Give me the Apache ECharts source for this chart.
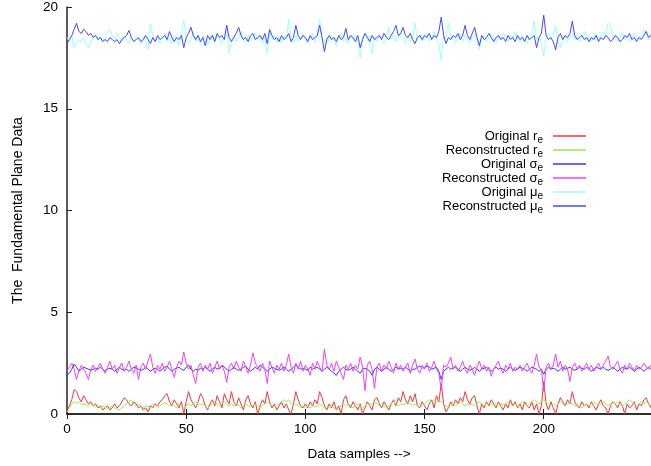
<!DOCTYPE html>
<html><head><meta charset="utf-8">
<script src="https://cdn.jsdelivr.net/npm/echarts@6/dist/echarts.min.js"></script>
<style>html,body{margin:0;padding:0;background:#fff}#c{width:651px;height:466px}</style>
</head><body><div id="c"></div>
<script>
// x: sample index 0..245
const xTicks = [0, 50, 100, 150, 200];
const yTicks = [0, 5, 10, 15, 20];

const seriesNames = ['Original r', 'Reconstructed r', 'Original σ', 'Reconstructed σ', 'Original μ', 'Reconstructed μ'];
const seriesSub = 'e';

const origRe = [
0.1,0.4,0.7,1.2,1.1,0.8,0.6,0.9,0.7,0.5,
0.6,0.4,0.5,0.3,0.4,0.2,0.3,0.4,0.2,0.3,
0.5,0.3,0.4,0.6,0.8,0.7,0.5,0.4,0.6,0.5,
0.3,0.4,0.2,0.3,0.1,0.4,0.3,0.5,0.4,0.6,
0.7,0.9,1.0,0.6,0.4,0.7,0.5,0.3,0.6,0.0,
0.6,1.1,0.7,0.5,0.3,0.6,1.0,0.8,0.4,0.2,
0.5,0.7,0.4,0.9,0.6,0.3,1.0,0.7,0.5,1.1,
0.6,0.4,0.8,0.5,0.2,0.7,0.9,0.5,0.3,0.6,
0.0,0.4,0.7,0.5,1.1,0.6,0.3,0.5,0.2,0.4,
0.6,0.3,0.5,0.2,0.0,0.5,1.1,0.7,0.4,0.3,
0.5,0.3,0.6,0.4,0.7,0.5,1.1,0.8,0.4,0.2,
0.5,0.3,0.6,0.2,0.4,0.0,0.7,0.9,0.5,0.3,
0.6,0.4,0.2,0.5,0.0,0.3,0.6,0.4,0.2,0.7,
0.8,0.5,0.3,0.6,0.4,0.2,0.5,0.7,0.4,0.8,
0.6,1.1,0.7,0.5,0.9,0.6,1.0,0.4,0.3,0.6,
0.4,0.2,0.5,0.7,0.3,0.9,0.6,1.5,0.5,0.1,
0.3,0.6,0.4,0.7,0.5,0.8,0.6,1.1,0.7,0.5,
0.8,0.9,0.4,0.0,0.5,0.3,0.6,0.4,0.7,0.5,
0.3,0.6,0.4,0.2,0.5,0.3,0.7,0.4,0.6,0.3,
0.5,0.2,0.6,0.4,0.3,0.6,0.2,0.5,0.0,0.4,
1.6,0.5,0.2,0.6,0.3,0.0,0.5,0.8,0.6,0.4,
0.7,0.5,1.1,0.6,0.4,0.3,0.6,0.4,0.5,0.3,
0.6,0.4,0.2,0.5,0.7,0.4,0.3,0.0,0.4,0.6,
0.5,0.3,0.6,0.4,0.0,0.5,0.3,0.4,0.6,0.2,
0.5,0.4,0.7,0.8,0.5,0.3
];
const reconRe = [
0.1,0.3,0.5,0.6,0.5,0.6,0.5,0.45,0.5,0.4,
0.5,0.4,0.35,0.4,0.3,0.4,0.35,0.25,0.3,0.4,
0.3,0.25,0.2,0.3,0.4,0.5,0.6,0.7,0.5,0.4,
0.5,0.4,0.3,0.4,0.35,0.4,0.5,0.4,0.3,0.4,
0.5,0.55,0.5,0.4,0.5,0.4,0.3,0.5,0.4,0.3,
0.4,0.5,0.4,0.5,0.6,0.5,0.45,0.5,0.4,0.3,
0.4,0.5,0.55,0.5,0.4,0.5,0.6,0.5,0.4,0.5,
0.4,0.5,0.45,0.3,0.4,0.5,0.4,0.35,0.4,0.5,
0.4,0.3,0.4,0.5,0.6,0.5,0.4,0.35,0.4,0.5,
0.6,0.7,0.6,0.7,0.5,0.4,0.5,0.4,0.3,0.4,
0.3,0.4,0.3,0.4,0.35,0.4,0.5,0.4,0.3,0.4,
0.3,0.4,0.3,0.2,0.3,0.4,0.5,0.4,0.5,0.4,
0.3,0.4,0.5,0.4,0.3,0.4,0.5,0.45,0.5,0.6,
0.5,0.4,0.5,0.4,0.3,0.4,0.5,0.6,0.5,0.4,
0.5,0.45,0.5,0.6,0.5,0.4,0.5,0.4,0.5,0.4,
0.5,0.6,0.7,0.6,0.7,0.6,0.7,0.6,0.5,0.4,
0.3,0.4,0.5,0.4,0.5,0.6,0.5,0.4,0.5,0.45,
0.5,0.4,0.5,0.6,0.5,0.4,0.5,0.6,0.5,0.4,
0.5,0.4,0.5,0.45,0.5,0.6,0.5,0.4,0.5,0.4,
0.5,0.6,0.5,0.4,0.5,0.6,0.7,0.6,0.5,0.6,
0.7,0.6,0.5,0.4,0.5,0.4,0.5,0.6,0.5,0.4,
0.5,0.6,0.5,0.4,0.5,0.4,0.3,0.4,0.5,0.4,
0.5,0.6,0.5,0.4,0.5,0.6,0.5,0.4,0.5,0.6,
0.5,0.6,0.5,0.4,0.5,0.6,0.7,0.6,0.5,0.4,
0.5,0.6,0.5,0.6,0.5,0.4
];
const origSigma = [
1.9,2.0,2.2,2.45,2.3,2.1,2.2,2.3,2.25,2.2,
2.15,2.2,2.25,2.2,2.3,2.2,2.1,2.2,2.25,2.2,
2.1,2.2,2.3,2.2,2.15,2.2,2.1,2.2,2.3,2.25,
2.2,2.15,2.2,2.3,2.2,2.1,2.2,2.25,2.2,2.1,
2.2,2.3,2.35,2.2,2.1,2.2,2.25,2.3,2.2,2.15,
2.3,2.4,2.2,2.1,2.2,2.15,2.25,2.2,2.3,2.2,
2.1,2.2,2.3,2.2,2.25,2.4,2.3,2.2,2.1,2.2,
2.3,2.2,2.15,2.2,2.3,2.35,2.2,2.1,2.2,2.3,
2.2,2.4,2.3,2.2,2.1,2.2,2.3,2.25,2.2,2.15,
2.2,2.3,2.2,2.1,2.2,2.3,2.4,2.3,2.2,2.25,
2.2,2.15,2.3,2.2,2.25,2.3,2.2,2.1,2.2,2.3,
2.2,2.1,2.0,1.9,2.1,2.2,2.3,2.2,2.15,2.2,
2.3,2.2,2.1,2.0,2.2,2.25,2.2,2.1,1.9,2.2,
2.3,2.2,2.1,2.2,2.3,2.2,2.1,2.2,2.3,2.2,
2.25,2.2,2.3,2.2,2.1,2.2,2.2,2.3,2.35,2.25,
2.3,2.35,2.3,2.2,2.25,2.3,2.1,1.7,2.1,2.2,
2.3,2.2,2.25,2.3,2.2,2.1,2.2,2.3,2.2,2.15,
2.2,2.3,2.2,2.1,2.2,2.25,2.3,2.2,2.1,2.2,
2.3,2.2,2.25,2.2,2.1,2.2,2.3,2.2,2.15,2.2,
2.3,2.25,2.2,2.1,2.2,2.3,2.25,2.2,2.1,2.2,
1.95,2.2,2.3,2.2,2.25,2.2,2.1,2.2,2.3,2.2,
2.25,2.3,2.2,2.15,2.2,2.3,2.25,2.2,2.3,2.2,
2.1,2.2,2.3,2.25,2.2,2.3,2.2,2.15,2.2,2.3,
2.2,2.1,2.2,2.3,2.25,2.2,2.3,2.2,2.1,2.2,
2.3,2.2,2.1,2.2,2.3,2.2
];
const reconSigma = [
2.1,2.3,2.5,2.2,1.7,2.1,2.4,2.2,2.0,1.7,
2.2,2.4,2.1,2.3,2.5,2.2,2.0,2.3,2.6,2.2,
2.4,2.0,2.3,2.5,2.1,2.3,2.6,2.2,2.0,2.4,
1.7,2.3,2.5,2.2,2.6,2.95,2.3,2.0,2.4,2.2,
2.5,2.1,2.3,2.6,2.2,1.8,2.3,2.6,2.4,3.05,
2.5,2.2,2.4,1.9,1.5,2.3,2.5,2.1,2.4,2.2,
2.5,2.0,2.3,2.6,2.2,2.4,2.1,1.55,2.3,2.5,
2.2,2.6,2.3,2.1,2.6,2.3,2.0,2.4,3.0,2.5,
2.3,2.1,2.5,2.2,1.5,2.6,2.3,2.0,2.4,2.2,
2.5,2.1,2.4,2.95,2.3,2.0,2.5,2.2,2.6,2.1,
2.4,2.2,1.9,2.5,2.2,2.6,2.3,2.1,3.2,2.4,
2.2,2.5,2.1,2.6,2.3,2.0,1.7,2.4,2.2,2.5,
2.1,2.4,2.2,2.8,2.3,1.15,2.4,2.6,2.2,1.25,
2.3,2.5,2.1,2.4,2.2,2.6,2.3,2.0,2.5,2.2,
2.4,2.1,2.3,2.5,2.0,2.4,2.7,2.2,2.0,2.4,
2.2,2.5,2.1,2.3,2.6,2.2,2.0,1.2,2.4,2.3,
2.5,2.8,2.2,2.4,2.1,2.3,2.6,2.2,2.0,2.4,
2.2,1.9,2.3,2.6,2.2,2.4,2.1,2.3,1.85,2.2,
2.4,2.6,2.2,2.0,2.4,2.2,2.5,2.1,2.3,2.2,
2.4,2.1,2.3,2.5,2.2,2.0,2.4,2.95,2.3,2.2,
1.1,2.3,2.5,2.2,2.4,2.95,2.3,2.6,2.1,2.4,
2.2,1.6,2.3,2.5,2.2,2.4,2.1,2.3,2.5,2.2,
2.4,2.1,2.3,2.5,2.2,2.4,2.6,2.85,2.3,2.2,
2.4,2.6,2.2,2.0,2.4,2.2,2.5,2.3,2.1,2.4,
2.2,2.3,2.5,2.3,2.2,2.4
];
const origMu = [
18.5,18.3,18.6,18.0,18.2,18.4,18.3,18.5,18.2,18.0,
18.3,18.5,18.7,18.4,18.6,18.3,18.5,18.8,18.9,18.6,
18.4,18.7,18.5,18.3,18.6,18.4,18.2,18.5,18.3,18.6,
18.4,18.2,18.5,18.3,17.9,19.2,18.6,18.3,18.5,18.2,
18.4,18.7,18.3,18.5,18.2,18.6,18.4,18.1,18.6,19.36,
18.5,18.2,18.4,18.7,18.3,18.5,18.2,18.6,18.4,18.1,
18.5,18.7,18.3,18.6,18.4,18.2,18.5,19.1,17.7,18.4,
18.6,18.3,18.5,18.8,18.4,18.2,18.6,18.3,18.5,18.7,
18.4,18.6,18.2,18.5,17.7,18.8,18.4,18.6,18.3,18.5,
18.2,18.6,18.4,19.4,18.5,18.2,18.6,18.3,18.5,18.7,
18.4,18.2,18.5,18.7,18.3,18.6,19.4,18.4,18.2,18.5,
18.3,18.6,18.4,18.1,18.5,18.7,18.3,18.5,18.2,18.6,
18.4,18.6,18.3,17.5,18.5,18.7,18.4,18.6,17.7,18.5,
18.3,18.6,18.4,18.2,18.5,19.0,18.4,18.6,18.3,18.5,
18.7,18.4,18.2,18.6,18.3,18.5,19.2,18.4,18.6,18.3,
18.5,18.7,18.3,18.5,18.8,18.4,18.2,17.4,18.6,18.5,
19.2,18.6,18.4,18.2,18.5,18.7,18.3,18.6,18.4,18.2,
18.5,18.7,18.4,17.9,18.5,18.6,18.3,18.5,18.7,18.4,
18.2,18.6,18.4,18.7,18.5,18.3,18.6,18.4,18.8,18.5,
18.3,18.6,18.4,18.2,18.5,18.7,19.3,18.4,18.5,18.2,
17.6,18.5,18.7,18.4,18.6,19.1,18.3,18.0,18.4,18.6,
18.3,18.5,18.7,18.4,18.6,18.3,18.5,18.8,18.4,18.6,
18.3,18.5,18.7,18.4,18.6,18.8,18.5,19.2,19.1,18.4,
18.6,18.3,18.5,18.8,18.4,18.6,18.3,18.5,18.7,18.4,
18.6,18.5,18.9,18.6,18.4,18.7
];
const reconMu = [
18.2,18.4,18.6,18.9,19.2,18.8,18.7,18.9,18.8,18.6,
18.7,18.5,18.6,18.4,18.5,18.3,18.4,18.3,18.5,18.4,
18.3,18.4,18.2,18.4,18.5,18.6,18.85,18.5,18.3,18.4,
18.5,18.3,18.4,18.6,18.4,18.2,18.5,18.3,18.6,18.4,
18.5,18.6,18.4,18.8,18.5,18.3,18.5,18.4,18.6,18.0,
18.5,18.7,19.0,18.6,18.4,18.6,18.3,18.5,18.1,18.6,
18.4,18.6,18.3,18.7,18.5,18.6,18.4,19.1,18.5,18.3,
18.5,18.7,19.0,18.6,18.4,18.5,18.3,18.6,18.7,18.4,
18.5,18.6,18.4,18.7,18.2,18.9,18.6,18.4,18.5,18.3,
18.6,18.4,18.5,18.7,18.3,18.5,19.1,18.6,18.4,18.6,
18.5,18.3,18.6,18.4,18.5,18.6,19.1,18.5,17.8,18.4,
18.6,18.4,18.5,18.3,18.6,18.4,18.5,18.95,18.4,18.6,
18.5,18.3,18.6,18.0,18.4,18.7,18.5,18.3,18.6,18.4,
18.5,18.6,18.4,18.7,18.5,18.4,18.6,18.8,19.1,18.6,
18.7,19.0,18.6,18.5,18.7,18.4,18.2,18.5,18.6,18.4,
18.6,18.5,18.7,18.4,18.6,18.5,18.8,19.5,18.6,18.2,
18.5,18.4,18.6,18.5,18.7,18.4,18.6,19.1,18.6,18.4,
18.7,19.0,18.5,18.1,18.6,18.4,18.5,18.7,18.5,18.3,
18.5,18.6,18.4,18.5,18.3,18.6,18.4,18.5,18.3,18.6,
18.4,18.5,18.3,18.6,18.4,18.5,18.6,18.0,18.5,18.7,
19.6,18.6,18.4,18.5,18.3,17.9,18.5,18.7,18.4,18.6,
18.5,18.7,19.3,18.6,18.4,18.5,18.6,18.4,18.5,18.3,
18.5,18.4,18.6,18.3,18.5,18.4,18.6,18.5,18.3,18.4,
18.6,18.5,18.3,18.4,18.6,18.5,18.7,18.4,18.5,18.3,
18.5,18.4,18.6,18.8,18.5,18.6
];

const allValues = [origRe, reconRe, origSigma, reconSigma, origMu, reconMu];
const colors = ['#ee3a3a', '#9be85a', '#3434ff', '#f044f0', '#9cffff', '#4848ff'];

const FONT = '"Liberation Sans", Arial, Helvetica, sans-serif';
const chart = echarts.init(document.getElementById('c'), null, {renderer: 'canvas'});

const legendRich = {
  a: {fontSize: 13, fontFamily: FONT, color: '#000', lineHeight: 14, height: 14},
  s: {fontSize: 10, fontFamily: FONT, color: '#000', lineHeight: 6, height: 6, padding: [8, 0, 0, 0]}
};

const series = allValues.map((vals, k) => ({
  name: seriesNames[k] + seriesSub,
  type: 'line',
  data: vals.map((v, i) => [i, v]),
  showSymbol: false,
  symbol: 'none',
  lineStyle: {width: 1, color: colors[k]},
  itemStyle: {color: colors[k]},
  clip: true,
  animation: false,
  z: 2 + k
}));

const axisLineStyle = {color: '#222', width: 1.5};

chart.setOption({
  animation: false,
  backgroundColor: '#fff',
  grid: {left: 67, top: 7, right: -4, bottom: 51, containLabel: false},
  legend: {
    orient: 'vertical',
    right: 60,
    top: 124,
    align: 'right',
    itemWidth: 33,
    itemHeight: 1.5,
    itemGap: -2,
    icon: 'rect',
    selectedMode: false,
    data: seriesNames.map(n => n + seriesSub),
    formatter: function (name) {
      const base = name.slice(0, -1);
      return '{a|' + base + '}{s|' + seriesSub + '}';
    },
    textStyle: {rich: legendRich, fontFamily: FONT, padding: [0, 5, 0, 0]}
  },
  xAxis: [{
    type: 'value', min: 0, max: 245, interval: 50,
    name: 'Data samples -->', nameLocation: 'middle', nameGap: 33,
    nameTextStyle: {fontSize: 13.5, fontFamily: FONT, color: '#000'},
    axisLine: {show: true, lineStyle: axisLineStyle, onZero: false},
    axisTick: {show: true, inside: true, length: 5, lineStyle: {color: '#222', width: 1}},
    axisLabel: {fontSize: 13.5, fontFamily: FONT, color: '#000', margin: 8,
      customValues: xTicks},
    splitLine: {show: false}
  }, {
    type: 'value', min: 0, max: 245, interval: 50, position: 'top',
    axisLine: {show: true, lineStyle: axisLineStyle},
    axisTick: {show: true, inside: true, length: 5, lineStyle: {color: '#222', width: 1}},
    axisLabel: {show: false},
    splitLine: {show: false}
  }],
  yAxis: {
    type: 'value', min: 0, max: 20, interval: 5,
    name: 'The  Fundamental Plane Data', nameLocation: 'middle', nameGap: 42,
    nameTextStyle: {fontSize: 14, fontFamily: FONT, color: '#000'},
    axisLine: {show: true, lineStyle: axisLineStyle, onZero: false},
    axisTick: {show: true, inside: true, length: 5, lineStyle: {color: '#222', width: 1}},
    axisLabel: {fontSize: 13.5, fontFamily: FONT, color: '#000', margin: 9,
      customValues: yTicks},
    splitLine: {show: false}
  },
  series: series
});
</script>
</body></html>
